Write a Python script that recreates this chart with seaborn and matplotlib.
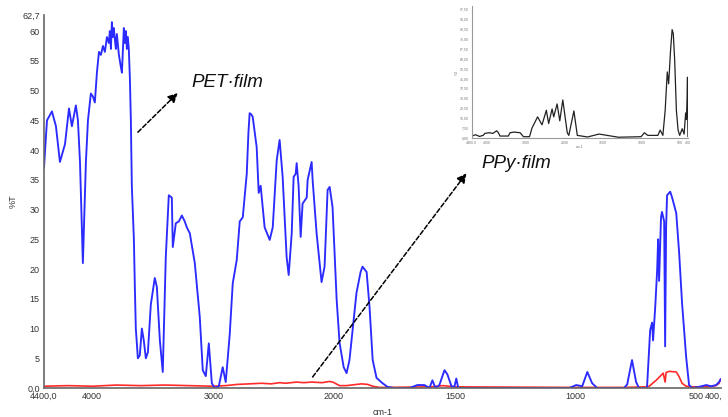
import numpy as np
import pandas as pd
import matplotlib
matplotlib.use("Agg")
import matplotlib.pyplot as plt
import matplotlib.transforms as mtrans
import seaborn as sns

# ---------------- data ----------------
pet_wn = [4400, 4375, 4334, 4301, 4268, 4226, 4193, 4169, 4136, 4119, 4102, 4078, 4053, 4036,
          4012, 3995, 3979, 3962, 3945, 3929, 3912, 3896, 3879, 3863, 3855, 3846, 3838, 3830,
          3822, 3813, 3805, 3797, 3780, 3764, 3755, 3739, 3731, 3722, 3714, 3706, 3698, 3689,
          3681, 3673, 3656, 3648, 3640, 3623, 3607, 3590, 3574, 3557, 3540, 3516, 3483, 3466,
          3441, 3417, 3392, 3367, 3342, 3334, 3309, 3284, 3259, 3235, 3218, 3193, 3152, 3111,
          3086, 3061, 3036, 3011, 2987, 2953, 2921, 2896, 2863, 2838, 2805, 2780, 2755, 2722,
          2708, 2698, 2685, 2673, 2640, 2623, 2607, 2574, 2532, 2507, 2474, 2450, 2425, 2392, 2375, 2350,
          2334, 2317, 2309, 2293, 2276, 2260, 2226, 2218, 2185, 2177, 2144, 2103, 2078, 2053,
          2036, 2012, 1989, 1977, 1960, 1948, 1936, 1907, 1890, 1882, 1865, 1853, 1840, 1824, 1799,
          1779, 1750, 1688, 1655, 1626, 1605, 1593, 1580, 1564, 1543, 1531, 1514, 1502, 1494,
          1486, 1027, 998, 973, 952, 932, 911, 800, 787, 767, 750, 738, 705, 692, 684, 680,
          671, 663, 659, 655, 647, 643, 634, 630, 626, 622, 609, 601, 584, 572, 560, 543, 531,
          518, 489, 460, 440, 419, 407, 400]
pet_t = [37, 45, 46.5, 44, 38, 41, 47, 44, 47.5, 45, 38, 21, 38, 45,
         49.5, 49, 48, 53, 56.5, 56, 57.5, 56.5, 59, 58, 60, 57, 61.5, 59,
         60.5, 58.5, 57, 59.5, 56, 54, 53, 60.5, 58, 60, 57, 59, 57, 52,
         45, 34, 25, 17, 10, 5, 5.5, 10, 8, 5, 6, 14, 18.5, 17,
         8, 2.7, 22, 32.4, 32, 23.7, 27.7, 28, 29, 28, 27, 26, 21, 12,
         3, 2, 7.5, 0.8, 0, 0.3, 3.5, 1, 9, 17.6, 21.5, 28, 28.7, 36,
         43, 46.2, 46.0, 45.6, 40.5, 32.8, 34, 27, 24.9, 27, 38.3, 41.7, 35.5, 22, 19, 26,
         35.5, 36, 37.8, 34, 25.4, 31, 32, 35, 38, 35, 26, 17.8, 20.4, 33.3,
         33.8, 30.4, 14.8, 7.6, 3.5, 2.5, 4.7, 16, 19.5, 20.4, 19.5, 13.6, 4.7, 1.7, 0.8,
         0.2, 0, 0, 0.5, 0.5, 0, 1.3, 0, 0.5, 3, 2.3, 0.3, 0.2, 1.6,
         0, 0, 0.5, 0.3, 2.7, 0.8, 0, 0, 0.6, 4.7, 1, 0, 0, 9.7, 11, 8,
         13.6, 19.8, 25, 18, 28.7, 29.6, 28, 7, 27, 32.4, 33, 32, 29.4, 22.7, 14.3, 5.2, 0.5,
         0, 0.2, 0.5, 0.3, 0.5, 1, 1.5]

ppy_wn = [4400, 4200, 4000, 3800, 3600, 3400, 3200, 3000, 2900, 2850, 2805, 2700, 2600, 2520,
          2450, 2400, 2309, 2250, 2185, 2100, 2036, 2010, 1977, 1950, 1886, 1860, 1840, 1812,
          1790, 1600, 1550, 1500, 1000, 800, 705, 696, 667, 655, 638, 630, 626, 614, 584, 572,
          560, 543, 520, 450, 420, 407, 400]
ppy_t = [0.3, 0.4, 0.3, 0.5, 0.4, 0.5, 0.4, 0.3, 0.4, 0.5, 0.6, 0.7, 0.8, 0.7,
         0.9, 0.8, 1.0, 0.9, 1.0, 0.9, 1.1, 1.0, 0.4, 0.4, 0.7, 0.6, 0.3, 0.1,
         0.1, 0.2, 0.4, 0.2, 0.1, 0.1, 0.2, 0.3, 1.3, 1.8, 2.5, 1.0, 2.6, 2.8, 2.7, 1.9,
         0.8, 0.3, 0.2, 0.2, 0.4, 0.8, 1.5]

inset_wn = [4400, 4300, 4200, 4105, 4060, 3950, 3850, 3755, 3710, 3670, 3550, 3452, 3408, 3300,
            3147, 3060, 2904, 2840, 2695, 2580, 2468, 2408, 2319, 2277, 2189, 2120, 2042, 1963,
            1943, 1877, 1833, 1700, 1551, 1300, 1007, 964, 920, 790, 760, 725, 695, 668, 650,
            625, 605, 590, 572, 550, 528, 507, 475, 450, 430, 420, 412, 406, 402, 400]
inset_t = [1.5, 2.5, 1.2, 2.0, 3.5, 4.0, 3.5, 5.5, 4.0, 1.5, 1.5, 1.5, 4.0, 4.5,
           4.0, 1.0, 1.0, 7.5, 16, 10, 21, 11, 22, 16, 25.8, 13, 28.8, 4,
           2, 20.5, 2, 0.8, 3, 0.6, 1.0, 4.0, 2.0, 2.0, 6, 2, 21, 50, 41,
           66.7, 82, 79, 59, 21, 6, 2, 7, 3, 19, 14, 29, 46, 12, 1]

x_ticks = [4400, 4000, 3000, 2000, 1500, 1000, 500, 400]
x_tick_labels = ["4400,0", "4000", "3000", "2000", "1500", "1000", "500", "400,"]
y_ticks = [0, 5, 10, 15, 20, 25, 30, 35, 40, 45, 50, 55, 60, 62.7]
y_tick_labels = ["0,0", "5", "10", "15", "20", "25", "30", "35", "40", "45", "50", "55", "60", "62,7"]

# ---------------- scale: 1000 cm-1 per unit above 2000, 500 cm-1 per unit below ----------------
def fwd(x):
    x = np.asarray(x, dtype=float)
    return np.where(x > 2000, (x - 2000) / 1000.0, (x - 2000) / 500.0)

def inv(t):
    t = np.asarray(t, dtype=float)
    return np.where(t > 0, 2000 + 1000.0 * t, 2000 + 500.0 * t)

sns.set_style("white")
plt.rcParams["font.family"] = ["Liberation Sans", "DejaVu Sans"]

fig = plt.figure(figsize=(7.28, 4.17), dpi=100)
ax = fig.add_axes([0.0604, 0.0695, 0.9296, 0.8945])

df_pet = pd.DataFrame({"wn": pet_wn, "T": pet_t})
df_ppy = pd.DataFrame({"wn": ppy_wn, "T": ppy_t})
sns.lineplot(data=df_ppy, x="wn", y="T", ax=ax, color="#ff2a2a", lw=1.2, estimator=None, sort=False)
sns.lineplot(data=df_pet, x="wn", y="T", ax=ax, color="#2b2bff", lw=1.35, estimator=None, sort=False)

ax.set_xscale("function", functions=(fwd, inv))
ax.set_xlim(4400, 400)
ax.set_ylim(0, 62.7)
ax.set_xticks(x_ticks)
ax.set_xticklabels(x_tick_labels)
ax.set_yticks(y_ticks)
ax.set_yticklabels(y_tick_labels)
ax.minorticks_off()
ax.tick_params(axis="both", labelsize=6.5, colors="#333333", length=2, direction="in", pad=3)
ax.set_xlabel("cm-1", fontsize=6.5, color="#333333", labelpad=5)
ax.set_ylabel("%T", fontsize=6.5, color="#333333", labelpad=3)
for s in ("top", "right"):
    ax.spines[s].set_visible(False)
ax.spines["left"].set_color("#666666")
ax.spines["bottom"].set_color("#666666")
ax.spines["left"].set_linewidth(1.2)
ax.spines["bottom"].set_linewidth(1.2)
last = ax.get_xticklabels()[-1]
last.set_transform(last.get_transform() + mtrans.ScaledTranslation(-5 / 72, 0, fig.dpi_scale_trans))

arrow_kw = dict(arrowstyle="-|>", color="black", lw=1.1, ls=(0, (3, 1.5)), mutation_scale=14,
                shrinkA=0, shrinkB=0)
ax.annotate("", xy=(3293, 49.6), xytext=(3623, 43), arrowprops=arrow_kw)
ax.annotate("", xy=(1452, 36.1), xytext=(2177, 1.85), arrowprops=arrow_kw)
ax.text(3177, 51.4, "PET·film", fontsize=13.5, style="italic", va="center", ha="left", color="#111111")
ax.text(1390, 37.8, "PPy·film", fontsize=13.5, style="italic", va="center", ha="left", color="#111111")

# ---------------- inset ----------------
axi = fig.add_axes([0.648, 0.669, 0.297, 0.317])
df_in = pd.DataFrame({"wn": inset_wn, "T": inset_t})
sns.lineplot(data=df_in, x="wn", y="T", ax=axi, color="#222222", lw=0.9, estimator=None, sort=False)
axi.set_xscale("function", functions=(fwd, inv))
axi.set_xlim(4400, 400)
axi.set_ylim(0, 100)
axi.set_xticks(x_ticks)
axi.set_xticklabels(x_tick_labels)
axi.set_yticks(np.arange(0, 101, 7.5))
axi.set_yticklabels([f"{v:.2f}".replace(".", ",") for v in np.arange(0, 101, 7.5)])
axi.minorticks_off()
axi.tick_params(axis="both", labelsize=2.5, colors="#777777", length=1, pad=1)
axi.set_xlabel("cm-1", fontsize=2.5, color="#777777", labelpad=0)
axi.set_ylabel("%T", fontsize=2.5, color="#777777", labelpad=1)
for s in ("top", "right"):
    axi.spines[s].set_visible(False)
axi.spines["left"].set_color("#999999")
axi.spines["bottom"].set_color("#999999")
axi.spines["left"].set_linewidth(0.8)
axi.spines["bottom"].set_linewidth(0.8)
axi.patch.set_alpha(0)

fig.savefig("out.png", dpi=100)
